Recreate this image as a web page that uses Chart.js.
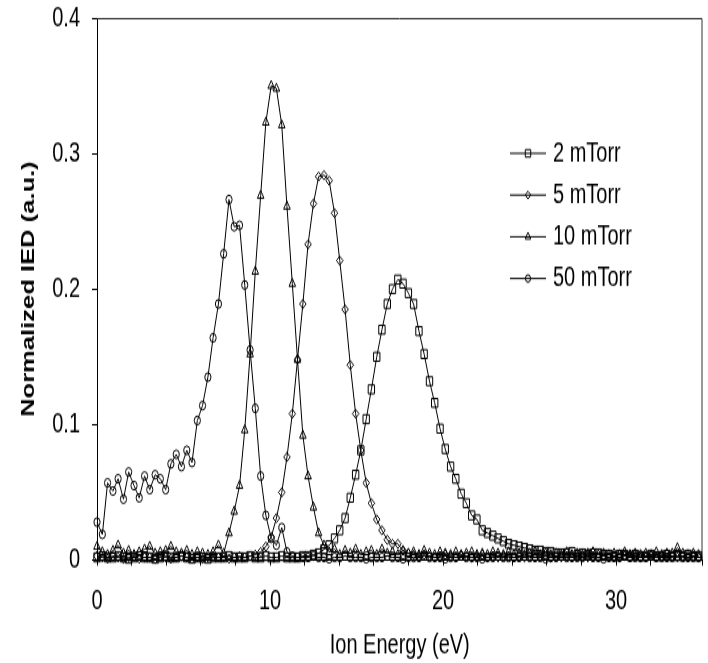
<!DOCTYPE html>
<html>
<head>
<meta charset="utf-8">
<script src="https://cdn.jsdelivr.net/npm/chart.js@4.4.1/dist/chart.umd.min.js"></script>
<style>
  html, body { margin: 0; padding: 0; background: #fff; overflow: hidden; }
  /* the source figure is stretched vertically: draw it flat at 480 high, show it at 663 */
  #ied { display: block; width: 708px; height: 663px; }
</style>
</head>
<body>
<canvas id="ied" width="708" height="480" style="width:708px;height:663px"></canvas>
<script>
// ── Data ─────────────────────────────────────────────────────
const energy = [
  0, 0.31, 0.61, 0.92, 1.22, 1.53, 1.83, 2.14, 2.44, 2.75,
  3.05, 3.36, 3.66, 3.97, 4.27, 4.58, 4.88, 5.19, 5.49, 5.80,
  6.10, 6.41, 6.71, 7.02, 7.32, 7.63, 7.93, 8.24, 8.54, 8.85,
  9.15, 9.46, 9.76, 10.07, 10.37, 10.68, 10.98, 11.29, 11.59, 11.90,
  12.20, 12.51, 12.81, 13.12, 13.42, 13.73, 14.03, 14.34, 14.64, 14.95,
  15.25, 15.56, 15.86, 16.17, 16.47, 16.78, 17.08, 17.39, 17.69, 18.00,
  18.30, 18.61, 18.91, 19.22, 19.52, 19.83, 20.13, 20.44, 20.74, 21.05,
  21.35, 21.66, 21.96, 22.27, 22.57, 22.88, 23.18, 23.49, 23.79, 24.10,
  24.40, 24.71, 25.01, 25.32, 25.62, 25.93, 26.23, 26.54, 26.84, 27.15,
  27.45, 27.76, 28.06, 28.37, 28.67, 28.98, 29.28, 29.59, 29.89, 30.20,
  30.50, 30.81, 31.11, 31.42, 31.72, 32.03, 32.33, 32.64, 32.94, 33.25,
  33.55, 33.86, 34.16, 34.47, 34.77
];

const ied2 = [
  0.002, 0.003, 0.002, 0.002, 0.003, 0.002, 0.001, 0.002, 0.003, 0.002,
  0.002, 0.001, 0.002, 0.003, 0.002, 0.002, 0.003, 0.002, 0.001, 0.002,
  0.002, 0.001, 0.002, 0.002, 0.002, 0.003, 0.002, 0.002, 0.002, 0.003,
  0.002, 0.002, 0.003, 0.002, 0.002, 0.003, 0.002, 0.002, 0.002, 0.003,
  0.003, 0.004, 0.005, 0.008, 0.011, 0.016, 0.022, 0.031, 0.046, 0.063,
  0.081, 0.104, 0.126, 0.150, 0.170, 0.189, 0.200, 0.207, 0.204, 0.197,
  0.189, 0.169, 0.152, 0.132, 0.116, 0.097, 0.082, 0.069, 0.060, 0.049,
  0.042, 0.033, 0.030, 0.022, 0.020, 0.018, 0.016, 0.014, 0.012, 0.011,
  0.010, 0.009, 0.008, 0.007, 0.007, 0.006, 0.006, 0.005, 0.005, 0.005,
  0.006, 0.004, 0.005, 0.004, 0.005, 0.005, 0.004, 0.004, 0.003, 0.004,
  0.004, 0.003, 0.004, 0.003, 0.003, 0.004, 0.003, 0.003, 0.004, 0.003,
  0.003, 0.003, 0.004, 0.003, 0.003
];

const ied5 = [
  0.003, 0.002, 0.001, 0.003, 0.002, 0.001, 0.002, 0.003, 0.001, 0.002,
  0.002, 0.001, 0.003, 0.002, 0.001, 0.002, 0.003, 0.002, 0.001, 0.002,
  0.001, 0.002, 0.003, 0.002, 0.002, 0.001, 0.002, 0.003, 0.002, 0.003,
  0.004, 0.006, 0.010, 0.017, 0.031, 0.050, 0.076, 0.108, 0.148, 0.189,
  0.233, 0.263, 0.283, 0.284, 0.280, 0.256, 0.221, 0.185, 0.144, 0.108,
  0.081, 0.057, 0.042, 0.030, 0.022, 0.015, 0.012, 0.012, 0.007, 0.005,
  0.004, 0.003, 0.004, 0.003, 0.002, 0.003, 0.004, 0.003, 0.002, 0.003,
  0.003, 0.002, 0.003, 0.004, 0.002, 0.003, 0.002, 0.003, 0.003, 0.002,
  0.003, 0.002, 0.003, 0.002, 0.003, 0.003, 0.002, 0.003, 0.002, 0.003,
  0.002, 0.003, 0.003, 0.002, 0.003, 0.002, 0.003, 0.002, 0.003, 0.002,
  0.003, 0.002, 0.003, 0.002, 0.002, 0.003, 0.002, 0.003, 0.002, 0.003,
  0.002, 0.003, 0.002, 0.003, 0.002
];

const ied10 = [
  0.010, 0.006, 0.004, 0.007, 0.011, 0.005, 0.007, 0.004, 0.006, 0.008,
  0.010, 0.005, 0.006, 0.007, 0.010, 0.006, 0.005, 0.007, 0.004, 0.006,
  0.005, 0.004, 0.006, 0.011, 0.005, 0.020, 0.036, 0.055, 0.096, 0.152,
  0.213, 0.269, 0.323, 0.350, 0.348, 0.321, 0.261, 0.204, 0.148, 0.092,
  0.062, 0.039, 0.020, 0.011, 0.006, 0.008, 0.004, 0.007, 0.005, 0.008,
  0.004, 0.006, 0.007, 0.004, 0.008, 0.005, 0.006, 0.004, 0.007, 0.005,
  0.006, 0.004, 0.007, 0.005, 0.004, 0.006, 0.005, 0.004, 0.006, 0.004,
  0.005, 0.006, 0.004, 0.005, 0.004, 0.006, 0.005, 0.004, 0.006, 0.004,
  0.005, 0.004, 0.005, 0.006, 0.004, 0.005, 0.004, 0.005, 0.004, 0.006,
  0.004, 0.005, 0.004, 0.005, 0.006, 0.004, 0.005, 0.004, 0.005, 0.004,
  0.006, 0.004, 0.005, 0.004, 0.005, 0.004, 0.006, 0.004, 0.005, 0.005,
  0.009, 0.005, 0.004, 0.005, 0.004
];

const ied50 = [
  0.028, 0.019, 0.057, 0.051, 0.060, 0.045, 0.065, 0.055, 0.046, 0.062,
  0.052, 0.063, 0.060, 0.052, 0.071, 0.078, 0.069, 0.081, 0.072, 0.103,
  0.114, 0.135, 0.164, 0.189, 0.226, 0.266, 0.246, 0.247, 0.203, 0.155,
  0.112, 0.062, 0.033, 0.016, 0.011, 0.024, 0.006, 0.003, 0.002, 0.002,
  0.002, 0.003, 0.002, 0.002, 0.001, 0.002, 0.002, 0.003, 0.002, 0.002,
  0.002, 0.001, 0.002, 0.002, 0.002, 0.003, 0.002, 0.002, 0.001, 0.002,
  0.002, 0.002, 0.003, 0.002, 0.002, 0.002, 0.001, 0.002, 0.002, 0.003,
  0.002, 0.002, 0.002, 0.001, 0.002, 0.002, 0.003, 0.002, 0.002, 0.002,
  0.002, 0.003, 0.002, 0.002, 0.002, 0.001, 0.002, 0.002, 0.003, 0.002,
  0.002, 0.002, 0.002, 0.003, 0.002, 0.002, 0.001, 0.002, 0.002, 0.002,
  0.003, 0.002, 0.002, 0.002, 0.002, 0.003, 0.002, 0.002, 0.002, 0.002,
  0.003, 0.002, 0.002, 0.002, 0.002
];

const labels = ['2 mTorr', '5 mTorr', '10 mTorr', '50 mTorr'];
const xTicks = [0, 10, 20, 30];
const yTicks = [0, 0.1, 0.2, 0.3, 0.4];

// ── Style ─────────────────────────────────────────────
const C = { ink: '#000', frame: '#333', font: 'Arial, "Liberation Sans", sans-serif' };
Chart.defaults.font.family = C.font;
Chart.defaults.color = C.ink;

const markers = [
  { pointStyle: 'rect', pointRadius: 4.5 },
  { pointStyle: 'rectRot', pointRadius: 3.3 },
  { pointStyle: 'triangle', pointRadius: 3.8 },
  { pointStyle: 'circle', pointRadius: 3.1 },
];
const series = [ied2, ied5, ied10, ied50];

const datasets = series.map((vals, i) => ({
  label: labels[i],
  data: energy.map((e, k) => ({ x: e, y: vals[k] })),
  borderColor: C.ink, borderWidth: 1, tension: 0,
  pointBorderColor: C.ink, pointBackgroundColor: 'rgba(0,0,0,0)', pointBorderWidth: 1,
  clip: false,
  ...markers[i],
}));

// top + right edges of the box, and the in-plot legend
const frameAndLegend = {
  id: 'frameAndLegend',
  beforeDatasetsDraw(chart) {
    const { ctx, chartArea: a } = chart;
    ctx.save();
    ctx.strokeStyle = C.frame; ctx.lineWidth = 1;
    ctx.beginPath();
    ctx.moveTo(a.left, a.top + 0.5); ctx.lineTo(a.right - 0.5, a.top + 0.5); ctx.lineTo(a.right - 0.5, a.bottom);
    ctx.stroke();
    ctx.restore();
  },
  afterDatasetsDraw(chart) {
    const { ctx, chartArea: a } = chart;
    ctx.save();
    ctx.font = '20px ' + C.font;
    ctx.textBaseline = 'middle';
    ctx.strokeStyle = C.ink; ctx.lineWidth = 1;
    chart.data.datasets.forEach((ds, i) => {
      const y = a.top + 98 + i * 30.2;
      const x0 = a.left + 413;
      ctx.beginPath(); ctx.moveTo(x0, y); ctx.lineTo(x0 + 36, y); ctx.stroke();
      ctx.fillStyle = 'rgba(0,0,0,0)';
      Chart.helpers.drawPoint(ctx, { pointStyle: ds.pointStyle, radius: ds.pointRadius * 0.85, rotation: 0, borderWidth: 1 }, x0 + 18, y);
      ctx.fillStyle = C.ink;
      ctx.fillText(ds.label, x0 + 43, y);
    });
    ctx.restore();
  }
};

new Chart(document.getElementById('ied'), {
  type: 'line',
  data: { datasets },
  plugins: [frameAndLegend],
  options: {
    responsive: false, animation: false,
    layout: { padding: { top: 13, right: 1, left: 0, bottom: 0 } },
    plugins: { legend: { display: false }, tooltip: { enabled: false } },
    scales: {
      x: {
        type: 'linear', min: 0, max: 35,
        // fixed box, no label overhang padding
        afterFit: s => { s.height = 74.5; s.paddingLeft = 0; s.paddingRight = 0; },
        border: { color: C.ink, width: 1 },
        grid: { drawOnChartArea: false, tickLength: 4, color: C.ink },
        ticks: {
          stepSize: 2, autoSkip: false, maxRotation: 0, padding: 14,
          font: { size: 20 }, color: C.ink,
          callback: v => (xTicks.includes(v) ? String(v) : ''),
        },
        title: { display: true, text: 'Ion Energy (eV)', font: { size: 20 }, color: C.ink, padding: { top: 0, bottom: 1 } },
      },
      y: {
        min: 0, max: 0.4,
        afterFit: s => { s.width = 97; s.paddingTop = 0; s.paddingBottom = 0; },
        border: { color: C.ink, width: 1 },
        grid: { drawOnChartArea: false, tickLength: 5, color: C.ink },
        ticks: {
          stepSize: 0.1, padding: 12, font: { size: 20 }, color: C.ink,
          callback: v => {
            const t = yTicks.find(q => Math.abs(q - v) < 1e-9);
            return t === undefined ? '' : String(t);
          },
        },
        title: { display: true, text: 'Normalized IED (a.u.)', font: { size: 18.5, weight: 'bold' }, color: C.ink, padding: { top: 18, bottom: 0 } },
      },
    },
  },
});
</script>
</body>
</html>
